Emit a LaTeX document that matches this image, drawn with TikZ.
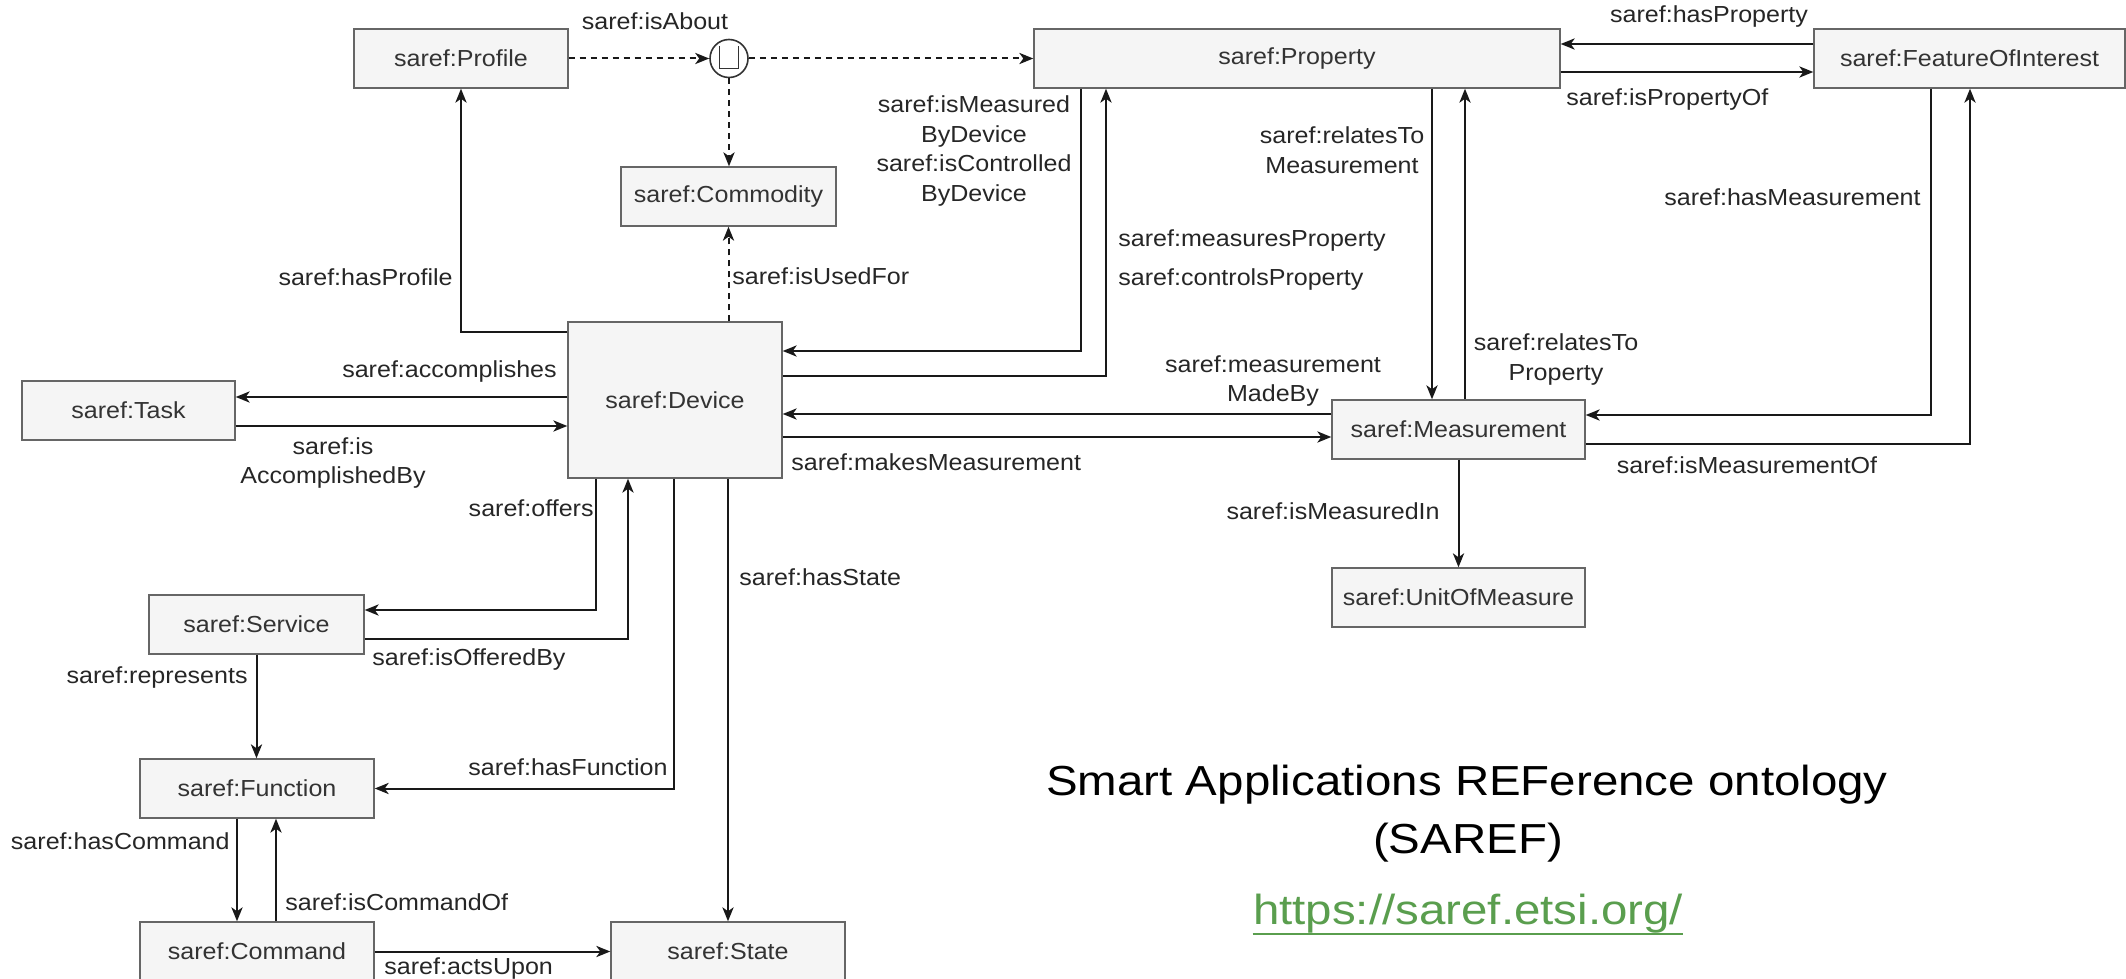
\documentclass[tikz,border=0pt]{standalone}
\usepackage{fontspec}
\setmainfont{Liberation Sans}[FakeStretch=1.08]
\newfontfamily\titlefont{Liberation Sans}[FakeStretch=1.13]
\usetikzlibrary{arrows.meta,calc}
\definecolor{boxfill}{HTML}{F5F5F5}
\definecolor{boxline}{HTML}{666666}
\definecolor{boxtext}{HTML}{333333}
\definecolor{lbltext}{HTML}{262626}
\definecolor{linkgreen}{HTML}{5A9E4E}
\begin{document}
\begin{tikzpicture}[x=0.5pt,y=-0.5pt,
  box/.style={draw=boxline,fill=boxfill,text=boxtext,line width=0.7pt,inner sep=0pt,
    font=\fontsize{11.6}{14.8}\selectfont,minimum height=29.5pt},
  lbl/.style={text=lbltext,inner sep=0pt,font=\fontsize{11.6}{14.8}\selectfont,align=center},
  arr/.style={line width=1pt,draw=black!90,-{Stealth[length=7pt,width=5.6pt,inset=2pt]}},
  darr/.style={arr,dash pattern=on 3pt off 2.5pt},
  ttl/.style={inner sep=0pt,anchor=base,font=\titlefont\fontsize{21}{25}\selectfont},
]
\useasboundingbox (0,0) rectangle (2126,979);

% boxes
\node[box,minimum width=107pt] (Profile) at (461,58.5) {saref:Profile};
\node[box,minimum width=263pt] (Property) at (1297,58.5) {saref:Property};
\node[box,minimum width=155.5pt] (FOI) at (1969.5,58.5) {saref:FeatureOfInterest};
\node[box,minimum width=107.5pt] (Commodity) at (728.5,196.5) {saref:Commodity};
\node[box,minimum width=107pt,minimum height=78pt] (Device) at (675,400) {saref:Device};
\node[box,minimum width=106.5pt] (Task) at (128.5,410.5) {saref:Task};
\node[box,minimum width=126.5pt] (Measurement) at (1458.5,429.5) {saref:Measurement};
\node[box,minimum width=126.5pt] (Unit) at (1458.5,597.5) {saref:UnitOfMeasure};
\node[box,minimum width=107.5pt] (Service) at (256.5,624.5) {saref:Service};
\node[box,minimum width=117pt] (Function) at (257,788.5) {saref:Function};
\node[box,minimum width=117pt] (Command) at (257,951.5) {saref:Command};
\node[box,minimum width=117pt] (State) at (728,951.5) {saref:State};

% union circle
\node[circle,draw=boxtext,fill=white,line width=0.8pt,minimum size=19pt,inner sep=0pt] (circ) at (729,58.5) {};
\draw[boxtext,line width=0.8pt] ($(circ)+(-9.5,-12)$) -- ($(circ)+(-9.5,10)$) -- ($(circ)+(9.5,10)$) -- ($(circ)+(9.5,-12)$);

% dashed connectors
\draw[darr] (Profile.east) -- (circ.west);
\draw[darr] (circ.east) -- (Property.west);
\draw[darr] (circ.south) -- (Commodity.north -| circ.south);
\draw[darr] (Commodity.south |- Device.north) -- (Commodity.south);

% solid connectors
\draw[arr] (Device.west |- 0,332) -| (Profile.south);
\draw[arr] (Device.west |- 0,397) -- (Task.east |- 0,397);
\draw[arr] (Task.east |- 0,426) -- (Device.west |- 0,426);
\draw[arr] (Property.south -| 1081,0) |- (Device.east |- 0,351);
\draw[arr] (Device.east |- 0,376) -| (Property.south -| 1106,0);
\draw[arr] (Measurement.west |- 0,414) -- (Device.east |- 0,414);
\draw[arr] (Device.east |- 0,437) -- (Measurement.west |- 0,437);
\draw[arr] (Property.south -| 1432,0) -- (Measurement.north -| 1432,0);
\draw[arr] (Measurement.north -| 1465,0) -- (Property.south -| 1465,0);
\draw[arr] (FOI.west |- 0,44) -- (Property.east |- 0,44);
\draw[arr] (Property.east |- 0,72) -- (FOI.west |- 0,72);
\draw[arr] (FOI.south -| 1931,0) |- (Measurement.east |- 0,415);
\draw[arr] (Measurement.east |- 0,444) -| (FOI.south -| 1970,0);
\draw[arr] (Measurement.south) -- (Unit.north);
\draw[arr] (Device.south -| 596,0) |- (Service.east |- 0,610);
\draw[arr] (Service.east |- 0,639) -| (Device.south -| 628,0);
\draw[arr] (Device.south -| 674,0) |- (Function.east);
\draw[arr] (State.north |- Device.south) -- (State.north);
\draw[arr] (Service.south) -- (Function.north -| Service.south);
\draw[arr] (Function.south -| 237,0) -- (Command.north -| 237,0);
\draw[arr] (Command.north -| 276,0) -- (Function.south -| 276,0);
\draw[arr] (Command.east) -- (State.west);

% labels
\node[lbl] (l1) at (655,21) {saref:isAbout};
\node[lbl,anchor=east] (l2) at (453,277) {saref:hasProfile};
\node[lbl,anchor=west] (l3) at (732,276) {saref:isUsedFor};
\node[lbl] (l4) at (449.5,372) {saref:accomplishes};
\node[lbl] (l5) at (333,463) {saref:is\\AccomplishedBy};
\node[lbl] (l6) at (974,151) {saref:isMeasured\\ByDevice\\saref:isControlled\\ByDevice};
\node[lbl,anchor=west] (l7) at (1118,241) {saref:measuresProperty};
\node[lbl,anchor=west] (l8) at (1118,279) {saref:controlsProperty};
\node[lbl] (l9) at (1342,150) {saref:relatesTo\\Measurement};
\node[lbl] (l10) at (1556,359.5) {saref:relatesTo\\Property};
\node[lbl] (l11) at (1273,381) {saref:measurement\\MadeBy};
\node[lbl,anchor=west] (l12) at (791,462) {saref:makesMeasurement};
\node[lbl] (l13) at (1709,17) {saref:hasProperty};
\node[lbl,anchor=west] (l14) at (1566,100) {saref:isPropertyOf};
\node[lbl,anchor=east] (l15) at (1921,197) {saref:hasMeasurement};
\node[lbl] (l16) at (1747,465) {saref:isMeasurementOf};
\node[lbl,anchor=east] (l17) at (1440,511) {saref:isMeasuredIn};
\node[lbl,anchor=east] (l18) at (594,508) {saref:offers};
\node[lbl,anchor=west] (l19) at (739,577) {saref:hasState};
\node[lbl,anchor=west] (l20) at (372,659) {saref:isOfferedBy};
\node[lbl,anchor=east] (l21) at (248,678) {saref:represents};
\node[lbl,anchor=east] (l22) at (668,767) {saref:hasFunction};
\node[lbl,anchor=east] (l23) at (230,841) {saref:hasCommand};
\node[lbl,anchor=west] (l24) at (285,902) {saref:isCommandOf};
\node[lbl,anchor=west] (l25) at (384,969) {saref:actsUpon};

% title
\node[ttl] (title1) at (1467,795) {Smart Applications REFerence ontology};
\node[ttl] (title2) at (1468,853) {(SAREF)};
\node[ttl,text=linkgreen] (url) at (1468,924) {https://saref.etsi.org/};
\draw[linkgreen,line width=1.4pt] (url.base west |- 0,934) -- (url.base east |- 0,934);
\end{tikzpicture}
\end{document}
